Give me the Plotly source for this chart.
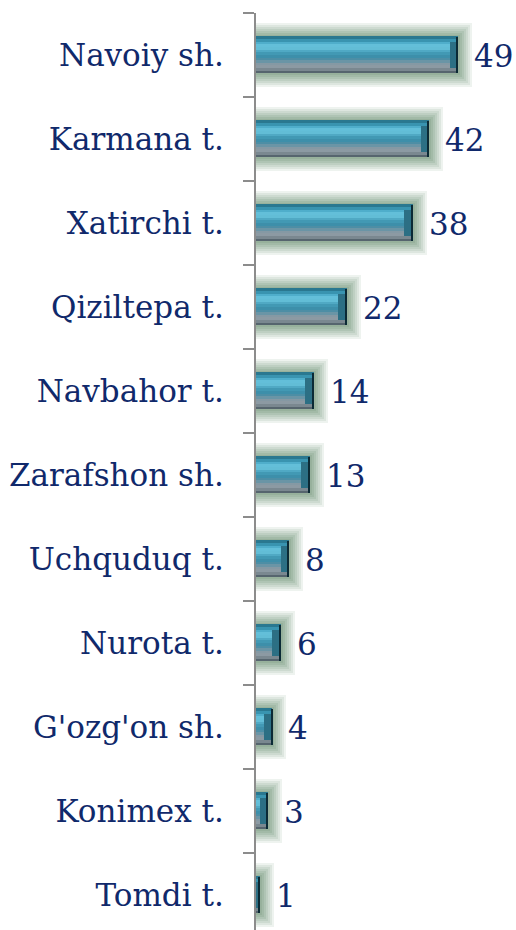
import plotly.graph_objects as go

categories = ["Navoiy sh.", "Karmana t.", "Xatirchi t.", "Qiziltepa t.", "Navbahor t.",
              "Zarafshon sh.", "Uchquduq t.", "Nurota t.", "G'ozg'on sh.", "Konimex t.", "Tomdi t."]
values = [49, 42, 38, 22, 14, 13, 8, 6, 4, 3, 1]

# bottom-to-top order for plotting
cats = categories[::-1]
vals = values[::-1]

FONT = "DejaVu Serif"
NAVY = "#10296B"
BAR_W = 0.44
PX_PER_UNIT = 4.12
PX_PER_CAT = 84.0

fig = go.Figure()

# soft glow behind bars
glow = [(14, 0.12), (12, 0.14), (10, 0.16), (8, 0.18), (6, 0.22), (4, 0.26), (2, 0.3)]
for d, op in glow:
    w = BAR_W + 2 * d / PX_PER_CAT
    fig.add_trace(go.Bar(
        y=cats, x=[v + d / PX_PER_UNIT for v in vals], orientation="h",
        width=w, offset=-w / 2, marker=dict(color="#7E9F86", line=dict(width=0)),
        opacity=op, hoverinfo="skip", showlegend=False))

# main bar body as vertical gradient strips (top -> bottom)
strip_colors = ["#2A7890", "#3994B0", "#4FAECB", "#63BFD9", "#62BDD6", "#50A9C4",
                "#4299B4", "#3D8FAA", "#4D8EA5", "#6A95A6", "#8599A4", "#8C9AA3",
                "#7A8890", "#56656E"]
n = len(strip_colors)
sw = BAR_W / n
for k, c in enumerate(strip_colors):
    off = BAR_W / 2 - (k + 1) * sw
    fig.add_trace(go.Bar(
        y=cats, x=vals, orientation="h", width=sw * 1.05, offset=off,
        marker=dict(color=c, line=dict(width=0)), hoverinfo="skip", showlegend=False))

# right-end bevel
end_len = 2.0
fig.add_trace(go.Bar(
    y=cats, x=[min(v, end_len) for v in vals], base=[max(v - end_len, 0) for v in vals],
    orientation="h", width=BAR_W * 0.7, offset=-BAR_W * 0.35,
    marker=dict(color="#2C6F84", line=dict(width=0)), hoverinfo="skip", showlegend=False))
tip_len = 0.35
fig.add_trace(go.Bar(
    y=cats, x=[min(v, tip_len) for v in vals], base=[max(v - tip_len, 0) for v in vals],
    orientation="h", width=BAR_W, offset=-BAR_W / 2,
    marker=dict(color="#0B2A35", line=dict(width=0)), hoverinfo="skip", showlegend=False))

# value labels
for c, v in zip(cats, vals):
    fig.add_annotation(x=v, y=c, text=str(v), showarrow=False, xanchor="left", yanchor="middle",
                       xshift=14, yshift=-1, font=dict(family=FONT, size=31, color=NAVY))

H = 930
TOP = 13
plot_h = H - TOP
y_top = len(cats) - 0.5
y_bottom = y_top - plot_h / PX_PER_CAT

fig.update_layout(
    width=516, height=H, barmode="overlay", bargap=0,
    margin=dict(l=256, r=0, t=TOP, b=0, pad=0),
    paper_bgcolor="white", plot_bgcolor="white", showlegend=False,
    xaxis=dict(range=[0, (516 - 256) / PX_PER_UNIT], visible=False, fixedrange=True),
    yaxis=dict(type="category", categoryorder="array", categoryarray=cats,
               range=[y_bottom, y_top],
               showline=True, linecolor="#8C8C8C", linewidth=2,
               ticks="outside", ticklen=11, tickwidth=2, tickcolor="#8C8C8C",
               tickson="boundaries",
               showgrid=False, zeroline=False, ticklabelstandoff=24,
               tickfont=dict(family=FONT, size=31, color=NAVY), fixedrange=True),
)

fig.write_html("out.html")
